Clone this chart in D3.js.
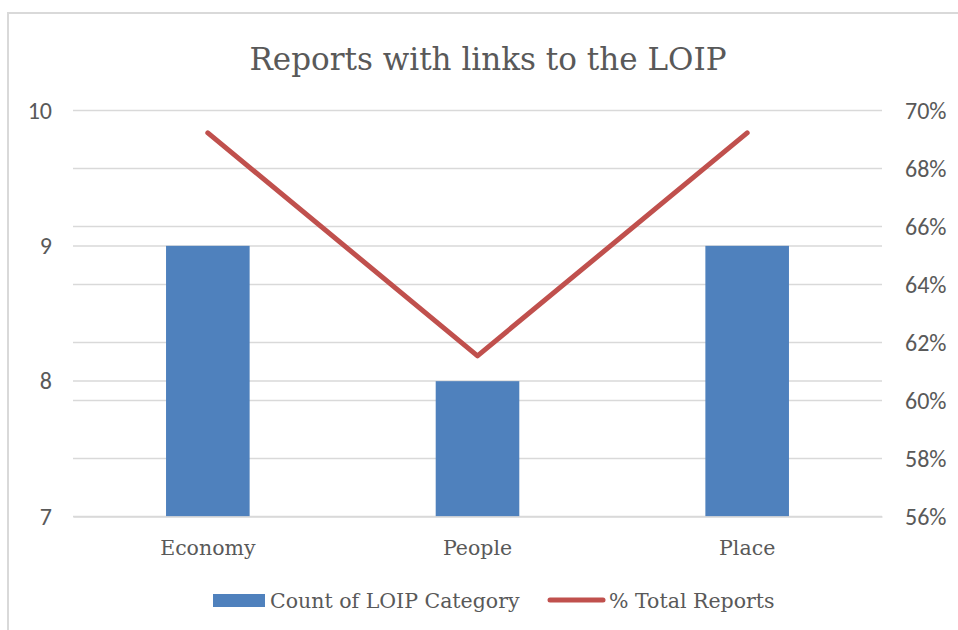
<!DOCTYPE html>
<html>
<head>
<meta charset="utf-8">
<script src="https://cdn.jsdelivr.net/npm/d3@7"></script>
<style>
  html, body { margin: 0; padding: 0; background: #fff; }
  svg { display: block; }
</style>
</head>
<body>
<svg id="chart" width="958" height="630"></svg>
<script>
// Data
const categories = ["Economy", "People", "Place"];
const counts = [9, 8, 9];                       // Count of LOIP Category
const shares = [0.6923, 0.6154, 0.6923];        // % Total Reports
const leftTicks = [7, 8, 9, 10];
const rightTicks = [0.56, 0.58, 0.60, 0.62, 0.64, 0.66, 0.68, 0.70];
const titleText = "Reports with links to the LOIP";
const seriesNames = ["Count of LOIP Category", "% Total Reports"];

const svg = d3.select("#chart");
const serif = "'DejaVu Serif', serif";
const sans = "Carlito, Calibri, Lato, 'Open Sans', sans-serif";
const textColor = "#595959";
const gridColor = "#D9D9D9";
const barColor = "#4F81BD";
const lineColor = "#C0504D";

// Chart frame
svg.append("path")
  .attr("d", "M8,630 V13 H958")
  .attr("fill", "none")
  .attr("stroke", gridColor)
  .attr("stroke-width", 2);

const plot = { left: 73, right: 882, top: 110.5, bottom: 516.5 };

const x = d3.scaleBand().domain(categories).range([plot.left, plot.right]).padding(0);
const yL = d3.scaleLinear().domain([7, 10]).range([plot.bottom, plot.top]);
const yR = d3.scaleLinear().domain([0.56, 0.70]).range([plot.bottom, plot.top]);

// Title
svg.append("text")
  .attr("x", 488).attr("y", 70)
  .attr("text-anchor", "middle")
  .attr("font-family", serif)
  .attr("font-size", 31)
  .attr("fill", textColor)
  .text(titleText);

// Gridlines from both value axes
const gridG = svg.append("g");
const gridYs = Array.from(new Set([
  ...rightTicks.map(t => Math.round(yR(t) * 2) / 2),
  ...leftTicks.map(t => Math.round(yL(t) * 2) / 2)
]));
gridG.selectAll("line").data(gridYs).join("line")
  .attr("x1", plot.left).attr("x2", plot.right)
  .attr("y1", d => d).attr("y2", d => d)
  .attr("stroke", gridColor)
  .attr("stroke-width", 1.5);

// Left axis
const leftAxis = svg.append("g")
  .attr("transform", `translate(${plot.left},0)`)
  .call(d3.axisLeft(yL).tickValues(leftTicks).tickSize(0).tickPadding(21).tickFormat(d3.format("d")));
leftAxis.select(".domain").remove();
leftAxis.selectAll("text")
  .attr("font-family", sans).attr("font-size", 24).attr("fill", textColor);

// Right axis
const rightAxis = svg.append("g")
  .attr("transform", `translate(${plot.right},0)`)
  .call(d3.axisRight(yR).tickValues(rightTicks).tickSize(0).tickPadding(23).tickFormat(d3.format(".0%")));
rightAxis.select(".domain").remove();
rightAxis.selectAll("text")
  .attr("font-family", sans).attr("font-size", 24).attr("fill", textColor);

// Bars
const barW = x.bandwidth() * 0.31;
svg.append("g").selectAll("rect").data(categories).join("rect")
  .attr("x", d => x(d) + x.bandwidth() / 2 - barW / 2)
  .attr("width", barW)
  .attr("y", (d, i) => yL(counts[i]))
  .attr("height", (d, i) => yL(7) - yL(counts[i]))
  .attr("fill", barColor);

// Category axis
const bottomAxis = svg.append("g")
  .attr("transform", `translate(0,${plot.bottom})`)
  .call(d3.axisBottom(x).tickSize(0).tickPadding(24));
bottomAxis.select(".domain").attr("stroke", gridColor).attr("stroke-width", 1.5);
bottomAxis.selectAll("text")
  .attr("font-family", serif).attr("font-size", 20.5).attr("fill", textColor);

// Line series
const line = d3.line()
  .x((d, i) => x(categories[i]) + x.bandwidth() / 2)
  .y(d => yR(d));
svg.append("path")
  .datum(shares)
  .attr("d", line)
  .attr("fill", "none")
  .attr("stroke", lineColor)
  .attr("stroke-width", 5)
  .attr("stroke-linejoin", "round")
  .attr("stroke-linecap", "round");

// Legend
const lg = svg.append("g").attr("font-family", serif).attr("font-size", 20.5).attr("fill", textColor);
lg.append("rect").attr("x", 213).attr("y", 594).attr("width", 52).attr("height", 13).attr("fill", barColor);
lg.append("text").attr("x", 270).attr("y", 608).text(seriesNames[0]);
lg.append("line").attr("x1", 550).attr("x2", 603).attr("y1", 600).attr("y2", 600)
  .attr("stroke", lineColor).attr("stroke-width", 5).attr("stroke-linecap", "round");
lg.append("text").attr("x", 609).attr("y", 608).text(seriesNames[1]);
</script>
</body>
</html>
